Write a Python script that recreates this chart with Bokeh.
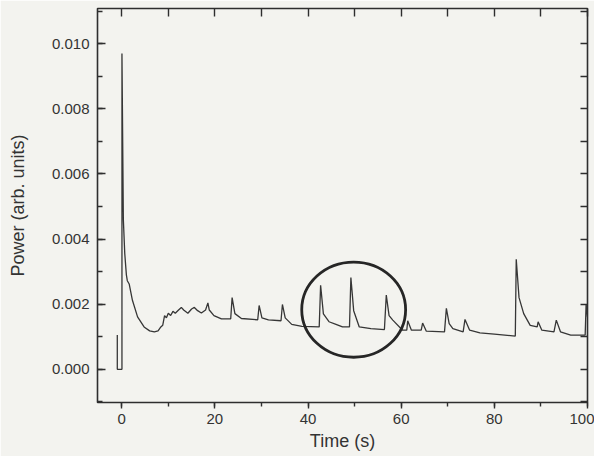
from bokeh.plotting import figure
from bokeh.models import LinearAxis, SingleIntervalTicker, NumeralTickFormatter, Range1d
from bokeh.embed import file_html
from bokeh.resources import INLINE

# Trace: time (s) and power (arb. units)
time_s = [-0.95, -0.95, 0.05, 0.05, 0.35, 0.65, 1.0, 1.2, 1.6, 2.3, 3.4, 4.8, 6.0, 7.0, 7.8,
          8.4, 8.8, 9.2, 9.6, 10.0, 10.5, 11.0, 11.5, 12.2, 12.8, 13.3, 14.2, 15.0, 15.6,
          16.3, 17.1, 18.0, 18.5, 18.8, 19.8, 21.4, 23.4, 23.7, 24.3, 25.7, 29.2, 29.5,
          30.1, 31.5, 34.2, 34.5, 35.1, 36.5, 38.7, 42.4, 42.7, 43.3, 44.5, 46.0, 47.4,
          48.9, 49.2, 49.8, 51.0, 53.5, 56.4, 56.8, 57.4, 58.2, 60.3, 61.2, 61.4, 62.2,
          64.3, 64.6, 65.4, 69.3, 69.7, 70.3, 71.1, 73.3, 73.7, 74.7, 76.9, 80.0, 84.5,
          84.7, 85.3, 86.3, 87.7, 89.2, 89.4, 90.2, 92.8, 93.3, 94.2, 96.4, 99.5, 99.7,
          100.0]
power = [0.00105, 0.0, 0.0, 0.0097, 0.0046, 0.00356, 0.0029, 0.00272, 0.00262, 0.00212,
         0.00161, 0.0013, 0.00118, 0.00115, 0.00118, 0.0013, 0.00135, 0.00165, 0.00158,
         0.00172, 0.00165, 0.00178, 0.00172, 0.00182, 0.0019, 0.00182, 0.00172, 0.00185,
         0.0019, 0.0018, 0.00173, 0.00182, 0.00204, 0.00182, 0.00165, 0.00155, 0.00155,
         0.0022, 0.00171, 0.00156, 0.00152, 0.00196, 0.00158, 0.00152, 0.00149, 0.00199,
         0.00158, 0.00138, 0.00132, 0.0013, 0.00258, 0.0017, 0.00146, 0.00138, 0.0013,
         0.0013, 0.00282, 0.0018, 0.0013, 0.00125, 0.00122, 0.00228, 0.00165, 0.00151,
         0.0012, 0.0012, 0.00149, 0.0012, 0.0012, 0.00142, 0.00117, 0.00115, 0.00187,
         0.0014, 0.00125, 0.00115, 0.00153, 0.0012, 0.00112, 0.00108, 0.00102, 0.00338,
         0.0022, 0.00171, 0.00135, 0.0013, 0.00146, 0.0012, 0.00115, 0.00151, 0.00115,
         0.00105, 0.00105, 0.002, 0.0016]

# Hand-drawn circle highlighting three bursts (center, width, height in data units)
circle_x = [49.8]
circle_y = [0.00183]
circle_w = [22.3]
circle_h = [0.00292]

x_label = "Time (s)"
y_label = "Power (arb. units)"

BG = "#f3f3ef"
INK = "#2e2e2e"
FONT = "Liberation Sans"

p = figure(width=594, height=456, x_range=Range1d(-5.2, 100), y_range=Range1d(-0.00102, 0.01108),
           output_backend="svg", toolbar_location=None,
           min_border_left=97, min_border_right=7, min_border_top=8, min_border_bottom=54)
p.background_fill_color = BG
p.border_fill_color = BG
p.outline_line_color = INK
p.outline_line_width = 1.6
p.grid.visible = False

p.line(time_s, power, line_color="#363636", line_width=1.3)
p.ellipse(x=circle_x, y=circle_y, width=circle_w, height=circle_h,
          fill_alpha=0, line_color="#262626", line_width=2.8)

# bottom axis
xa = p.xaxis[0]
xa.ticker = SingleIntervalTicker(interval=20, num_minor_ticks=2)
xa.axis_line_color = None
xa.major_tick_in = 0
xa.major_tick_out = 6
xa.minor_tick_in = 0
xa.minor_tick_out = 4
xa.major_tick_line_color = INK
xa.minor_tick_line_color = INK
xa.major_tick_line_width = 1.4
xa.minor_tick_line_width = 1.4
xa.major_label_text_font = FONT
xa.major_label_text_font_size = "15px"
xa.major_label_text_color = "#333333"
xa.major_label_standoff = 5
xa.axis_label = x_label
xa.axis_label_text_font = FONT
xa.axis_label_text_font_size = "18px"
xa.axis_label_text_font_style = "normal"
xa.axis_label_text_color = "#333333"
xa.axis_label_standoff = 4

# left axis
ya = p.yaxis[0]
ya.ticker = SingleIntervalTicker(interval=0.002, num_minor_ticks=2)
ya.formatter = NumeralTickFormatter(format="0.000")
ya.axis_line_color = None
ya.major_tick_in = 8
ya.major_tick_out = 0
ya.minor_tick_in = 5
ya.minor_tick_out = 0
ya.major_tick_line_color = INK
ya.minor_tick_line_color = INK
ya.major_tick_line_width = 1.4
ya.minor_tick_line_width = 1.4
ya.major_label_text_font = FONT
ya.major_label_text_font_size = "15px"
ya.major_label_text_color = "#333333"
ya.major_label_standoff = 8
ya.axis_label = y_label
ya.axis_label_text_font = FONT
ya.axis_label_text_font_size = "18px"
ya.axis_label_text_font_style = "normal"
ya.axis_label_text_color = "#333333"
ya.axis_label_standoff = 21

# top axis: ticks only (labels not painted)
ta = LinearAxis(ticker=SingleIntervalTicker(interval=10, num_minor_ticks=0),
                axis_line_color=None, major_tick_in=8, major_tick_out=0,
                major_tick_line_color=INK, major_tick_line_width=1.4,
                minor_tick_line_color=None, major_label_text_color=None,
                major_label_text_font_size="1px", major_label_standoff=0)
p.add_layout(ta, "above")

# right axis: ticks only (labels not painted)
ra = LinearAxis(ticker=SingleIntervalTicker(interval=0.001, num_minor_ticks=0),
                axis_line_color=None, major_tick_in=7, major_tick_out=0,
                major_tick_line_color=INK, major_tick_line_width=1.4,
                minor_tick_line_color=None, major_label_text_color=None,
                major_label_text_font_size="1px", major_label_standoff=0)
p.add_layout(ra, "right")

open("out.html", "w").write(file_html(p, INLINE))
